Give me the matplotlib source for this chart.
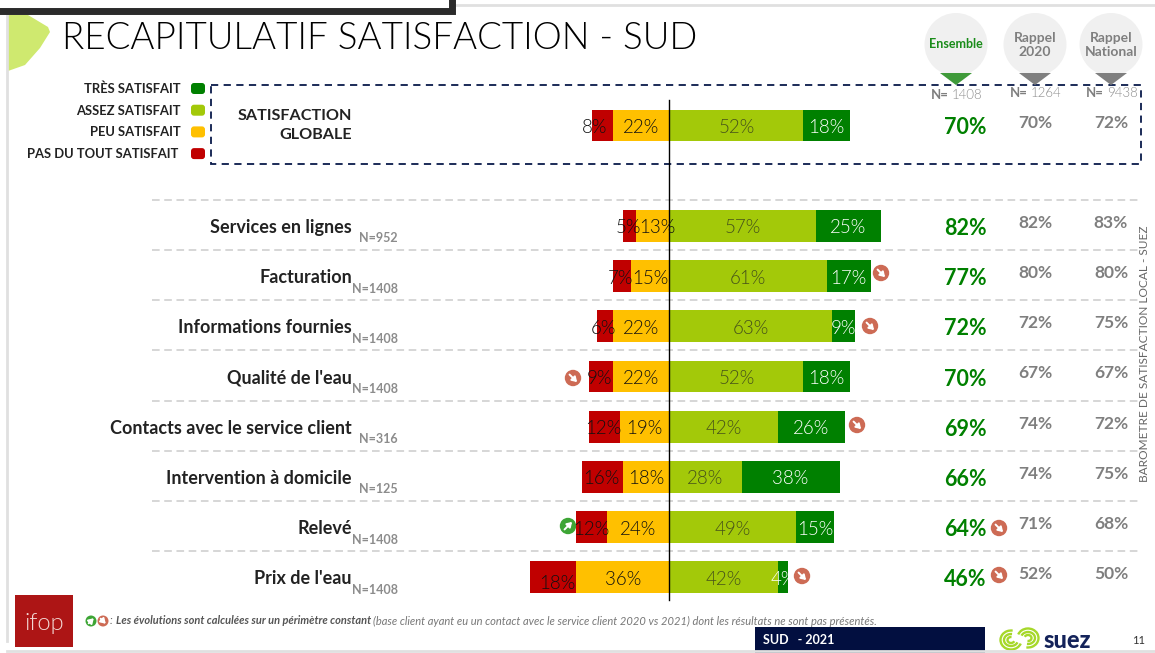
import numpy as np
import matplotlib
matplotlib.use('Agg')
import matplotlib.pyplot as plt
from matplotlib import font_manager as fm
from matplotlib.patches import Circle, Polygon, Rectangle, FancyBboxPatch, Arc

plt.rcParams['font.family'] = ['Lato', 'DejaVu Sans']

# Lato ships a real Light cut, but asking for weight='light' lands on Hairline
light_files = [f.fname for f in fm.fontManager.ttflist if 'Lato-Light.' in f.fname]
LIGHT = dict(font=fm.FontProperties(fname=light_files[0])) if light_files else dict(fontweight='normal')

categories = ['SATISFACTION\nGLOBALE', 'Services en lignes', 'Facturation', 'Informations fournies',
              "Qualité de l'eau", 'Contacts avec le service client', 'Intervention à domicile',
              'Relevé', "Prix de l'eau"]
bases = ['', 'N=952', 'N=1408', 'N=1408', 'N=1408', 'N=316', 'N=125', 'N=1408', 'N=1408']

pas_du_tout = [8, 5, 7, 6, 9, 12, 16, 12, 18]
peu = [22, 13, 15, 22, 22, 19, 18, 24, 36]
assez = [52, 57, 61, 63, 52, 42, 28, 49, 42]
tres = [18, 25, 17, 9, 18, 26, 38, 15, 4]

ensemble = [70, 82, 77, 72, 70, 69, 66, 64, 46]
rappel_2020 = [70, 82, 80, 72, 67, 74, 74, 71, 52]
rappel_national = [72, 83, 80, 75, 67, 72, 75, 68, 50]

legend_labels = ['TRÈS SATISFAIT', 'ASSEZ SATISFAIT', 'PEU SATISFAIT', 'PAS DU TOUT SATISFAIT']
header_labels = ['Ensemble', 'Rappel\n2020', 'Rappel\nNational']
header_n = ['1408', '1264', '9438']

RED, ORANGE, LIME, GREEN = '#c00000', '#ffc000', '#a3c909', '#008000'
NAVY = '#0a1a4a'
GREY = '#7f7f7f'
W, H = 1155, 653
X0, PX_PER_PCT = 669.3, 2.58
Y0, ROW_H = 125.5, 50.2

rows = [0, 2, 3, 4, 5, 6, 7, 8, 9]

fig = plt.figure(figsize=(W / 100, H / 100), dpi=100)

# pixel overlay for the slide furniture
pa = fig.add_axes([0, 0, 1, 1], zorder=1)
pa.set_xlim(0, W)
pa.set_ylim(H, 0)
pa.axis('off')

# the chart itself, in percent / row units
ax = fig.add_axes([0, 0, 1, 1], zorder=2)
ax.set_xlim(-X0 / PX_PER_PCT, (W - X0) / PX_PER_PCT)
ax.set_ylim((H - Y0) / ROW_H, -Y0 / ROW_H)
ax.axis('off')
ax.patch.set_alpha(0)

# frame
pa.plot([455, W], [5, 5], color='#e0e0e0', lw=2)
pa.plot([7, 7], [14, H - 12], color='#e0e0e0', lw=2)
pa.plot([7, W], [651, 651], color='#e0e0e0', lw=2)
pa.plot([0, 452, 452], [11, 11, 0], color='#2b2b2b', lw=5, solid_joinstyle='miter')
pa.add_patch(Polygon([(8, 15), (28, 15), (48, 27), (50, 32), (40, 48), (25, 65), (8, 71)],
                     closed=True, color='#cfe96f', lw=0))
pa.text(62, 39, 'RECAPITULATIF SATISFACTION - SUD', fontsize=26.5, va='center', color='black', **LIGHT)

# legend
for i, lab in enumerate(legend_labels):
    y = 89 + 21.7 * i
    pa.text(181 if i < 3 else 178, y, lab, ha='right', va='center', fontsize=9.4, fontweight='bold', color='#222222')
    pa.add_patch(FancyBboxPatch((192, y - 5), 12, 9, boxstyle='round,pad=1,rounding_size=3',
                                color=[GREEN, LIME, ORANGE, RED][i], lw=0))

pa.add_patch(Rectangle((211, 85), 930, 79, fill=False, ec=NAVY, lw=1.3, ls=(0, (4, 3))))

# header bubbles
for cx, lab, n, col, ny in zip([956, 1035, 1111], header_labels, header_n, ['#3f9a3a', GREY, GREY], [95, 93, 93]):
    pa.add_patch(Circle((cx, 44.5), 31.5, color='#f0f0f0', lw=0))
    pa.add_patch(Polygon([(cx - 16, 73), (cx + 16, 73), (cx, 85)], closed=True, color=col, lw=0))
    if lab == 'Ensemble':
        pa.text(cx, 43.5, lab, ha='center', va='center', fontsize=9, fontweight='bold', color='#1a8c1a')
    else:
        pa.text(cx, 45, lab, ha='center', va='center', fontsize=10, fontweight='bold', color=GREY, linespacing=1.3)
    pa.text(cx - 25, ny, 'N=', ha='left', va='center', fontsize=9.5, fontweight='bold', color=GREY)
    pa.text(cx - 4, ny, n, ha='left', va='center', fontsize=9.5, color='#8c8c8c', **LIGHT)

# dashed row separators
for r in range(1, 9):
    y = Y0 + ROW_H * (r + 0.5) - 1
    pa.plot([152, 1141], [y, y], color='#cccccc', lw=1.1, ls=(0, (5, 3)))

# stacked bars
y_rows = np.array(rows)
red = np.array(pas_du_tout)
ora = np.array(peu)
lim = np.array(assez)
gre = np.array(tres)
bh = 0.63
ax.barh(y_rows, -ora, bh, color=ORANGE)
ax.barh(y_rows, -red, bh, left=-ora, color=RED)
ax.barh(y_rows, lim, bh, color=LIME)
bars_g = ax.barh(y_rows, gre, bh, left=lim, color=GREEN)
ax.plot([0, 0], [-0.5, 9.45], color='black', lw=1.0, zorder=5)

for i, r in enumerate(rows):
    size = 13.5
    dx = -3 if i == 0 else (-0.4 if i != 8 else 1.5)
    dy = 0.12 if i == 8 else 0.04
    ax.text(-ora[i] - red[i] / 2 + dx, r + dy, '%d%%' % red[i], ha='center', va='center',
            fontsize=size, color='#111111', zorder=6, **LIGHT)
    ax.text(-ora[i] / 2 + (2 if i == 1 else 0), r + 0.04, '%d%%' % ora[i], ha='center', va='center',
            fontsize=size, color='#111111', zorder=6, **LIGHT)
    ax.text(lim[i] / 2, r + 0.04, '%d%%' % lim[i], ha='center', va='center',
            fontsize=size, color='#46521a', zorder=6, **LIGHT)
    t = ax.text(lim[i] + gre[i] / 2, r + 0.04, '%d%%' % gre[i], ha='center', va='center',
                fontsize=size, color='white', zorder=6, **LIGHT)
    if gre[i] < 8:
        t.set_clip_path(bars_g[i])

    # category labels
    y = Y0 + ROW_H * r
    if i == 0:
        pa.text(352, y, categories[i], ha='right', va='center', fontsize=11.6, fontweight='bold',
                color='#222222', linespacing=1.45, multialignment='right')
    else:
        pa.text(352, y + 1.5, categories[i], ha='right', va='center', fontsize=13, fontweight='bold', color='#222222')
        pa.text(398, y + 12.5, bases[i], ha='right', va='center', fontsize=9, fontweight='bold', color='#8c8c8c')

    # totals
    pa.text(965, y + 2.5, '%d%%' % ensemble[i], ha='center', va='center', fontsize=15.5, fontweight='bold', color=GREEN)
    pa.text(1035.5, y - 3, '%d%%' % rappel_2020[i], ha='center', va='center', fontsize=12.5, fontweight='bold', color=GREY)
    pa.text(1111, y - 3, '%d%%' % rappel_national[i], ha='center', va='center', fontsize=12.5, fontweight='bold', color=GREY)


def arrow_badge(cx, cy, down=True, r=8.2):
    col = '#cd6b55' if down else '#3da535'
    pa.add_patch(Circle((cx, cy), r, color=col, lw=0, zorder=8))
    s = 1 if down else -1
    pa.annotate('', xy=(cx + r * 0.5, cy + r * 0.5 * s), xytext=(cx - r * 0.42, cy - r * 0.42 * s), zorder=9,
                arrowprops=dict(arrowstyle='-|>,head_width=0.18,head_length=0.28', color='white', lw=1.4,
                                shrinkA=0, shrinkB=0))


for bx, by, d in [(881, 273, True), (870, 326, True), (573, 378, True), (857, 425, True),
                  (568, 526, False), (802, 576, True), (999, 528, True), (999, 575, True)]:
    arrow_badge(bx, by, d)

pa.text(1145, 354, 'BAROMETRE DE SATISFACTION LOCAL - SUEZ', rotation=90, ha='center', va='center',
        fontsize=8.6, color='#666666')

# footer
pa.add_patch(Rectangle((15, 595), 57.5, 52, color='#ad1515', lw=0))
pa.text(44, 624, 'ifop', ha='center', va='center', fontsize=17, color='#f3d9d5', **LIGHT)
arrow_badge(91, 621, False, r=5.5)
arrow_badge(103, 621, True, r=5.5)
pa.text(110, 621, ':', ha='left', va='center', fontsize=8, color='#666666', style='italic')
pa.text(116, 621, 'Les évolutions sont calculées sur un périmètre constant', ha='left', va='center',
        fontsize=7.9, color='#555555', style='italic', fontweight='bold')
pa.text(373, 621, '(base client ayant eu un contact avec le service client 2020 vs 2021) dont les résultats ne sont pas présentés.',
        ha='left', va='center', fontsize=8, color='#777777', style='italic')

pa.add_patch(Rectangle((755, 627), 230, 26, color='#020f40', lw=0))
pa.text(763, 640, 'SUD   - 2021', ha='left', va='center', fontsize=9, fontweight='bold', color='white')

# suez logo, rough swirl
for wd, ht in [(21, 19), (14, 12), (7, 6)]:
    pa.add_patch(Arc((1011, 640), wd, ht, theta1=20, theta2=280, color='#a6d82a', lw=1.7))
    pa.add_patch(Arc((1028, 638), wd, ht, theta1=200, theta2=460, color='#a6d82a', lw=1.7))
pa.text(1043, 640, 'suez', ha='left', va='center', fontsize=17, fontweight='black', color='#14235a')
pa.text(1139, 641, '11', ha='center', va='center', fontsize=8, color='#333333')

fig.savefig('out.png', dpi=100)
